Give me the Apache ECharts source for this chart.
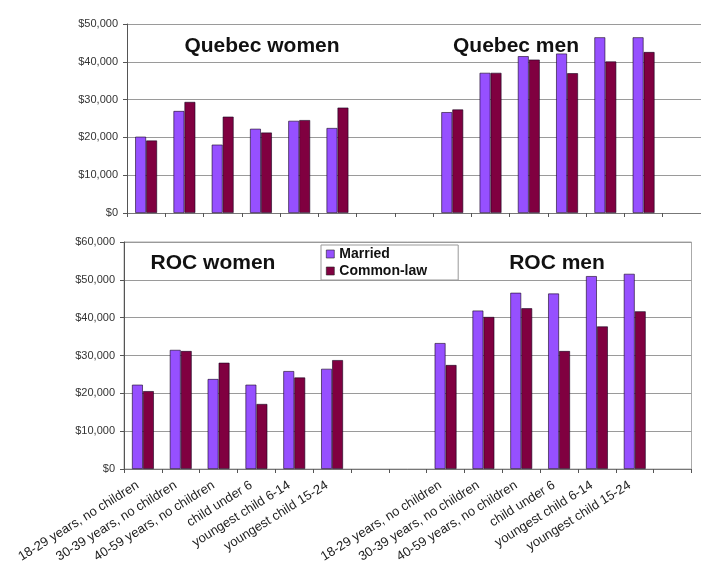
<!DOCTYPE html>
<html>
<head>
<meta charset="utf-8">
<script src="https://cdn.jsdelivr.net/npm/echarts@6/dist/echarts.min.js"></script>
<style>
html,body{margin:0;padding:0;background:#fff;}
#main{width:701px;height:567px;}
</style>
</head>
<body>
<div id="main"></div>
<script>
// Category labels (women block, 2 empty gap slots, men block, 1 empty slot)
const groupLabels = ['18-29 years, no children', '30-39 years, no children', '40-59 years, no children', 'child under 6', 'youngest child 6-14', 'youngest child 15-24'];
const categories = groupLabels.concat(['', ''], groupLabels, ['']);

const seriesNames = ['Married', 'Common-law'];
const panelTitles = ['Quebec women', 'Quebec men', 'ROC women', 'ROC men'];

// Quebec (top panel): women then men
const quebecWomenMarried = [20200, 27000, 18100, 22300, 24400, 22500];
const quebecWomenCommon  = [19200, 29400, 25500, 21300, 24600, 27900];
const quebecMenMarried   = [26700, 37100, 41500, 42200, 46500, 46500];
const quebecMenCommon    = [27400, 37100, 40600, 37000, 40100, 42600];

// Rest of Canada (bottom panel)
const rocWomenMarried = [22300, 31500, 23800, 22300, 25900, 26500];
const rocWomenCommon  = [20600, 31200, 28100, 17200, 24200, 28800];
const rocMenMarried   = [33300, 41900, 46600, 46400, 51000, 51600];
const rocMenCommon    = [27500, 40200, 42500, 31200, 37700, 41700];

const topMax = 50000, bottomMax = 60000, yStep = 10000;

function panel(w, m) { return w.concat([null, null], m, [null]); }

const colMarried = '#9650ff';
const colCommon = '#800040';
const txtFont = 'Liberation Sans, Arial, sans-serif';

function money(v) { return '$' + v.toLocaleString('en-US'); }

function xAxis(gridIndex, showLabels) {
  return {
    type: 'category', gridIndex: gridIndex, data: categories,
    boundaryGap: true,
    axisLine: { show: true, lineStyle: { color: '#777', width: 1 } },
    axisTick: { show: true, interval: 0, length: 4, lineStyle: { color: '#555' } },
    axisLabel: showLabels ? {
      show: true, interval: 0, rotate: 32, margin: 12,
      fontFamily: txtFont, fontSize: 13, color: '#222',
      padding: [0, 6, 0, 0]
    } : { show: false, interval: 0 },
    splitLine: { show: false }
  };
}
function yAxis(gridIndex, max) {
  return {
    type: 'value', gridIndex: gridIndex, min: 0, max: max, interval: yStep,
    axisLine: { show: true, lineStyle: { color: '#555', width: 1 } },
    axisTick: { show: true, length: 4, lineStyle: { color: '#555' } },
    axisLabel: { formatter: money, fontFamily: txtFont, fontSize: 11, color: '#333', margin: 9 },
    splitLine: { show: true, lineStyle: { color: '#9a9a9a', width: 1.2 } }
  };
}
function bar(name, data, idx, color) {
  return {
    name: name, type: 'bar', xAxisIndex: idx, yAxisIndex: idx, data: data,
    barWidth: 11, barGap: '0%',
    itemStyle: { color: color, borderColor: 'rgba(20,0,30,0.75)', borderWidth: 0.8 },
    animation: false
  };
}

const titleStyle = { fontFamily: txtFont, fontSize: 21, fontWeight: 'bold', color: '#111' };

const chart = echarts.init(document.getElementById('main'), null, { renderer: 'canvas' });
chart.setOption({
  backgroundColor: '#fff',
  animation: false,
  title: [
    { text: panelTitles[0], left: 257, top: 31, textAlign: 'center', textStyle: titleStyle },
    { text: panelTitles[1], left: 511, top: 31, textAlign: 'center', textStyle: titleStyle },
    { text: panelTitles[2], left: 208, top: 248, textAlign: 'center', textStyle: titleStyle },
    { text: panelTitles[3], left: 552, top: 248, textAlign: 'center', textStyle: titleStyle }
  ],
  legend: {
    data: seriesNames, orient: 'vertical', left: 321, top: 245,
    icon: 'rect', itemWidth: 8, itemHeight: 8, itemGap: 3, itemTextGap: 7,
    padding: [2, 31, 2, 5],
    backgroundColor: '#fff', borderColor: '#999', borderWidth: 1,
    textStyle: { fontFamily: txtFont, fontSize: 14, fontWeight: 'bold', color: '#111', lineHeight: 14 },
    itemStyle: { borderColor: '#222', borderWidth: 0.6 }
  },
  grid: [
    { left: 127, top: 24, width: 582, height: 189, containLabel: false },
    { left: 124, top: 242, width: 567.5, height: 227, containLabel: false, show: true, borderColor: '#aaa', borderWidth: 1 }
  ],
  xAxis: [xAxis(0, false), xAxis(1, true)],
  yAxis: [yAxis(0, topMax), yAxis(1, bottomMax)],
  series: [
    bar(seriesNames[0], panel(quebecWomenMarried, quebecMenMarried), 0, colMarried),
    bar(seriesNames[1], panel(quebecWomenCommon, quebecMenCommon), 0, colCommon),
    bar(seriesNames[0], panel(rocWomenMarried, rocMenMarried), 1, colMarried),
    bar(seriesNames[1], panel(rocWomenCommon, rocMenCommon), 1, colCommon)
  ]
});
</script>
</body>
</html>
